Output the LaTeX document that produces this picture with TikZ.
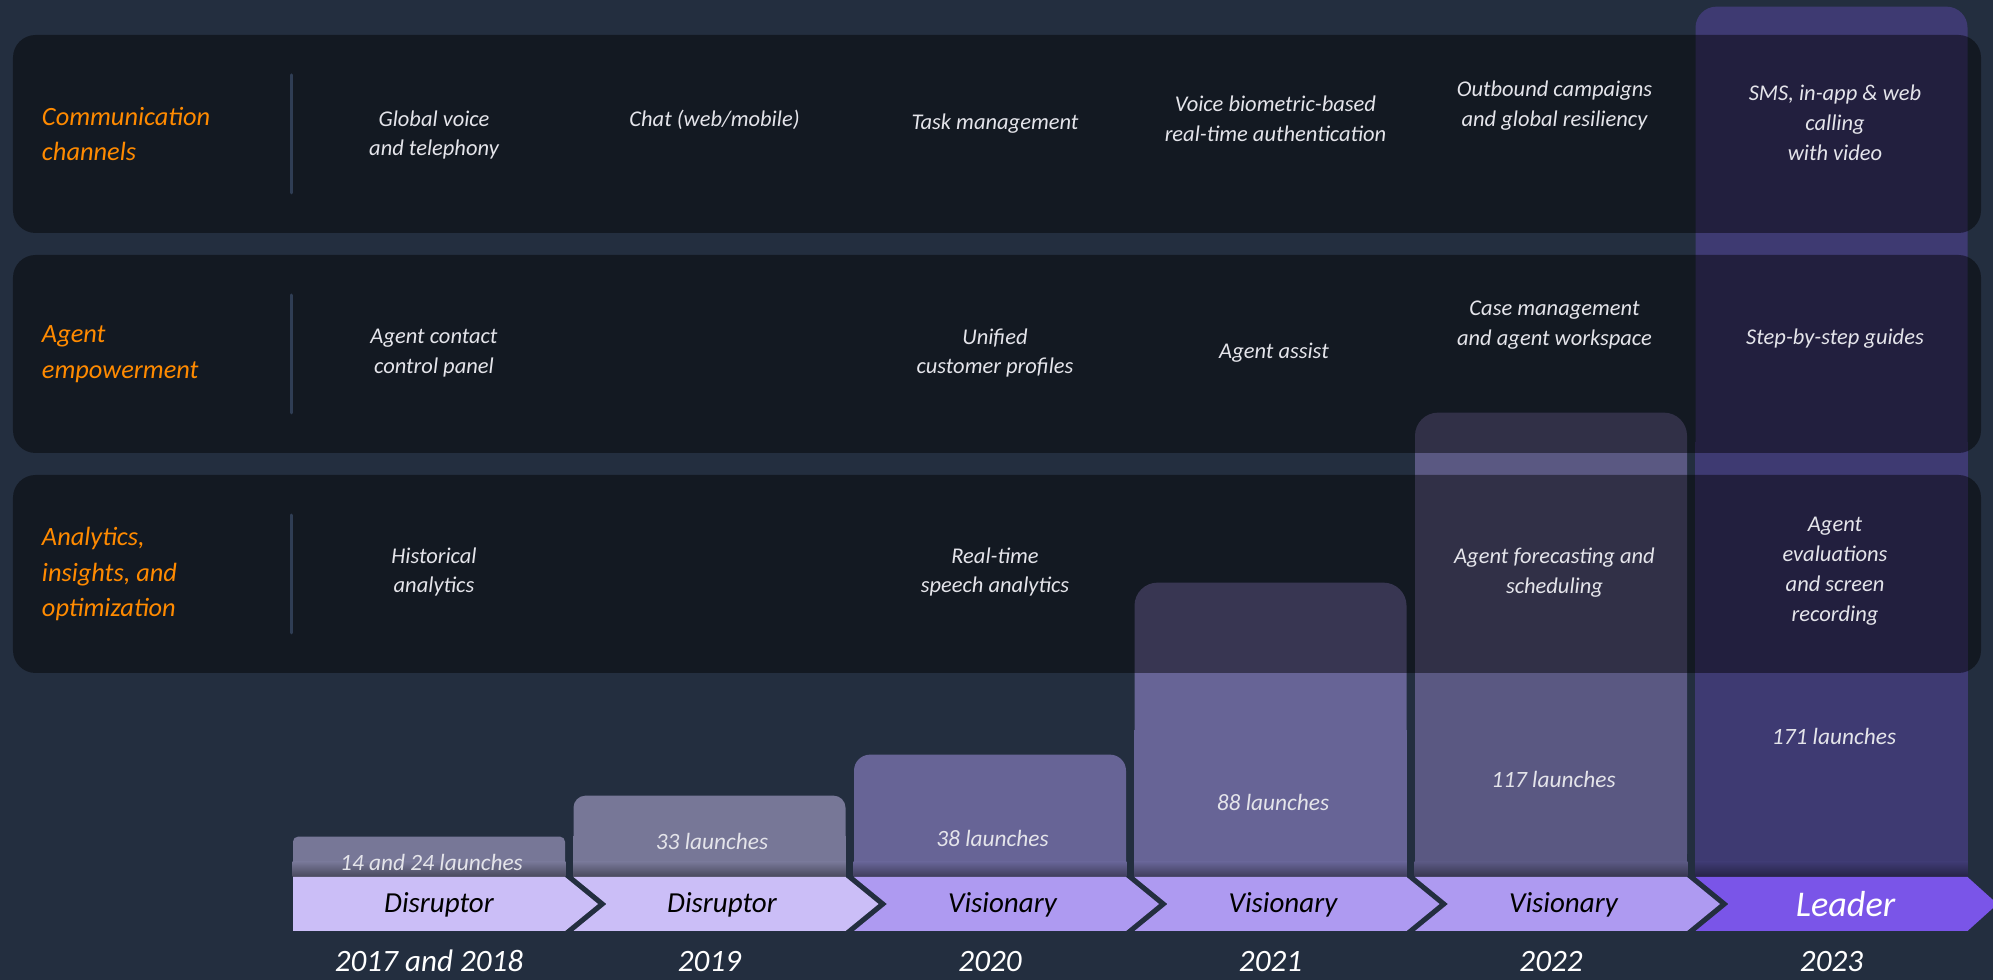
\documentclass[tikz,border=0pt]{standalone}
\usepackage{fontspec}
\setmainfont{Carlito}
\usetikzlibrary{calc, positioning}

\definecolor{bg}{HTML}{232E3F}
\definecolor{sepcol}{HTML}{2F3D54}
\definecolor{cattext}{HTML}{FF8A00}
\definecolor{feattext}{HTML}{E4E4EA}
\definecolor{barA}{HTML}{777797}
\definecolor{barB}{HTML}{676496}
\definecolor{barC}{HTML}{5A5882}
\definecolor{barD}{HTML}{3E3A72}
\definecolor{stageA}{HTML}{CBBEF7}
\definecolor{stageB}{HTML}{AE9AF1}
\definecolor{stageC}{HTML}{7A55E8}

\tikzset{
  row/.style={fill=black, fill opacity=0.45, rounded corners=0.45cm, minimum width=39.36cm, minimum height=3.96cm, inner sep=0},
  sepline/.style={sepcol, line width=1.7pt, line cap=round},
  cat/.style={anchor=west, align=left, inner sep=0, text=cattext, font=\fontsize{15}{20.2}\selectfont\itshape},
  feat/.style={align=center, inner sep=0, text=feattext, font=\fontsize{12.8}{17}\selectfont\itshape},
  bar/.style={anchor=south, minimum width=5.44cm, inner sep=0},
  launch/.style={inner sep=0, text=feattext, font=\fontsize{13.3}{16}\selectfont\itshape},
  stage/.style={inner sep=0, text=black, font=\fontsize{16.5}{20}\selectfont\itshape},
  year/.style={anchor=base, inner sep=0, text=white, font=\fontsize{17.7}{20}\selectfont\itshape},
}

\begin{document}
\begin{tikzpicture}
    \useasboundingbox[fill=bg] (0,0) rectangle (39.86,19.6);

    % column centres
    \coordinate (c1) at (8.58,0);
    \coordinate (c2) at (14.19,0);
    \coordinate (c3) at (19.80,0);
    \coordinate (c4) at (25.41,0);
    \coordinate (c5) at (31.02,0);
    \coordinate (c6) at (36.63,0);

    % launch bars
    \node[bar, fill=barA, minimum height=0.80cm, rounded corners=0.10cm] (bar1) at ($(c1)+(0,2.06)$) {};
    \node[bar, fill=barA, minimum height=1.62cm, rounded corners=0.24cm] (bar2) at ($(c2)+(0,2.06)$) {};
    \node[bar, fill=barB, minimum height=2.44cm, rounded corners=0.32cm] (bar3) at ($(c3)+(0,2.06)$) {};
    \node[bar, fill=barB, minimum height=5.88cm, rounded corners=0.46cm] (bar4) at ($(c4)+(0,2.06)$) {};
    \node[bar, fill=barC, minimum height=9.28cm, rounded corners=0.46cm] (bar5) at ($(c5)+(0,2.06)$) {};
    \node[bar, fill=barD, minimum height=17.40cm, rounded corners=0.42cm] (bar6) at ($(c6)+(0,2.06)$) {};

    % square bottoms with a soft shadow
    \fill[barA] (bar1.west) rectangle (bar1.south east);
    \fill[barA] (bar2.west) rectangle (bar2.south east);
    \fill[barB] (bar3.west) rectangle (bar3.south east);
    \fill[barB] (bar4.west) rectangle (bar4.south east);
    \fill[barC] (bar5.west) rectangle (bar5.south east);
    \fill[barD] (bar6.west) rectangle (bar6.south east);
    \shade[top color=barA, bottom color=barA!60!black] ($(bar1.south west)+(0,0.3)$) rectangle (bar1.south east);
    \shade[top color=barA, bottom color=barA!60!black] ($(bar2.south west)+(0,0.3)$) rectangle (bar2.south east);
    \shade[top color=barB, bottom color=barB!60!black] ($(bar3.south west)+(0,0.3)$) rectangle (bar3.south east);
    \shade[top color=barB, bottom color=barB!60!black] ($(bar4.south west)+(0,0.3)$) rectangle (bar4.south east);
    \shade[top color=barC, bottom color=barC!60!black] ($(bar5.south west)+(0,0.3)$) rectangle (bar5.south east);
    \shade[top color=barD, bottom color=barD!60!black] ($(bar6.south west)+(0,0.3)$) rectangle (bar6.south east);

    % rows
    \node[row] (comm) at (19.94,16.92) {};
    \node[row] (agent) at (19.94,12.52) {};
    \node[row] (anal) at (19.94,8.12) {};

    \draw[sepline] ($(comm.west)+(5.58,1.18)$) -- ($(comm.west)+(5.58,-1.18)$);
    \draw[sepline] ($(agent.west)+(5.58,1.18)$) -- ($(agent.west)+(5.58,-1.18)$);
    \draw[sepline] ($(anal.west)+(5.58,1.18)$) -- ($(anal.west)+(5.58,-1.18)$);

    \node[cat] (commlbl) at ($(comm.west)+(0.58,0)$) {Communication\\channels};
    \node[cat] (agentlbl) at ($(agent.west)+(0.58,0)$) {Agent\\empowerment};
    \node[cat] (anallbl) at ($(anal.west)+(0.58,0)$) {Analytics,\\insights, and\\optimization};

    % communication channels
    \node[feat] (voice) at ($(c1)+(0.1,16.90)$) {Global voice\\and telephony};
    \node[feat] (chat) at ($(c2)+(0.1,17.21)$) {Chat (web/mobile)};
    \node[feat] (tasks) at ($(c3)+(0.1,17.13)$) {Task management};
    \node[feat] (biom) at ($(c4)+(0.1,17.22)$) {Voice biometric-based\\real-time authentication};
    \node[feat] (outb) at ($(c5)+(0.07,17.48)$) {Outbound campaigns\\and global resiliency};
    \node[feat] (sms) at ($(c6)+(0.07,17.15)$) {SMS, in-app \& web\\calling\\with video};

    % agent empowerment
    \node[feat] (ccp) at ($(c1)+(0.1,12.54)$) {Agent contact\\control panel};
    \node[feat] (prof) at ($(c3)+(0.1,12.54)$) {Unified\\customer profiles};
    \node[feat] (assist) at ($(c4)+(0.07,12.54)$) {Agent assist};
    \node[feat] (cases) at ($(c5)+(0.07,13.10)$) {Case management\\and agent workspace};
    \node[feat] (guides) at ($(c6)+(0.07,12.82)$) {Step-by-step guides};

    % analytics
    \node[feat] (hist) at ($(c1)+(0.1,8.16)$) {Historical\\analytics};
    \node[feat] (speech) at ($(c3)+(0.1,8.16)$) {Real-time\\speech analytics};
    \node[feat] (wfm) at ($(c5)+(0.07,8.15)$) {Agent forecasting and\\scheduling};
    \node[feat] (evals) at ($(c6)+(0.07,8.18)$) {Agent\\evaluations\\and screen\\recording};

    % launches
    \node[launch] (l1) at ($(c1)+(0.05,2.36)$) {14 and 24 launches};
    \node[launch] (l2) at ($(c2)+(0.05,2.78)$) {33 launches};
    \node[launch] (l3) at ($(c3)+(0.05,2.84)$) {38 launches};
    \node[launch] (l4) at ($(c4)+(0.05,3.56)$) {88 launches};
    \node[launch] (l5) at ($(c5)+(0.05,4.02)$) {117 launches};
    \node[launch] (l6) at ($(c6)+(0.05,4.88)$) {171 launches};

    % stage chevrons
    \fill[stageA] ($(c1)+(-2.72,0.98)$) -- ++(0,1.08) -- ++(5.44,0) -- ++(0.66,-0.54) -- ++(-0.66,-0.54) -- cycle;
    \fill[stageA] ($(c2)+(-2.72,0.98)$) -- ++(0.66,0.54) -- ++(-0.66,0.54) -- ++(5.44,0) -- ++(0.66,-0.54) -- ++(-0.66,-0.54) -- cycle;
    \fill[stageB] ($(c3)+(-2.72,0.98)$) -- ++(0.66,0.54) -- ++(-0.66,0.54) -- ++(5.44,0) -- ++(0.66,-0.54) -- ++(-0.66,-0.54) -- cycle;
    \fill[stageB] ($(c4)+(-2.72,0.98)$) -- ++(0.66,0.54) -- ++(-0.66,0.54) -- ++(5.44,0) -- ++(0.66,-0.54) -- ++(-0.66,-0.54) -- cycle;
    \fill[stageB] ($(c5)+(-2.72,0.98)$) -- ++(0.66,0.54) -- ++(-0.66,0.54) -- ++(5.44,0) -- ++(0.66,-0.54) -- ++(-0.66,-0.54) -- cycle;
    \fill[stageC] ($(c6)+(-2.72,0.98)$) -- ++(0.66,0.54) -- ++(-0.66,0.54) -- ++(5.44,0) -- ++(0.60,-0.54) -- ++(-0.60,-0.54) -- cycle;

    \node[stage] (s1) at ($(c1)+(0.2,1.5)$) {Disruptor};
    \node[stage] (s2) at ($(c2)+(0.25,1.5)$) {Disruptor};
    \node[stage] (s3) at ($(c3)+(0.25,1.5)$) {Visionary};
    \node[stage] (s4) at ($(c4)+(0.25,1.5)$) {Visionary};
    \node[stage] (s5) at ($(c5)+(0.25,1.5)$) {Visionary};
    \node[stage, text=white, font=\fontsize{20.6}{24}\selectfont\itshape] (s6) at ($(c6)+(0.28,1.52)$) {Leader};

    % years
    \node[year] (y1) at ($(c1)+(0,0.17)$) {2017 and 2018};
    \node[year] (y2) at ($(c2)+(0,0.17)$) {2019};
    \node[year] (y3) at ($(c3)+(0,0.17)$) {2020};
    \node[year] (y4) at ($(c4)+(0,0.17)$) {2021};
    \node[year] (y5) at ($(c5)+(0,0.17)$) {2022};
    \node[year] (y6) at ($(c6)+(0,0.17)$) {2023};
\end{tikzpicture}
\end{document}
